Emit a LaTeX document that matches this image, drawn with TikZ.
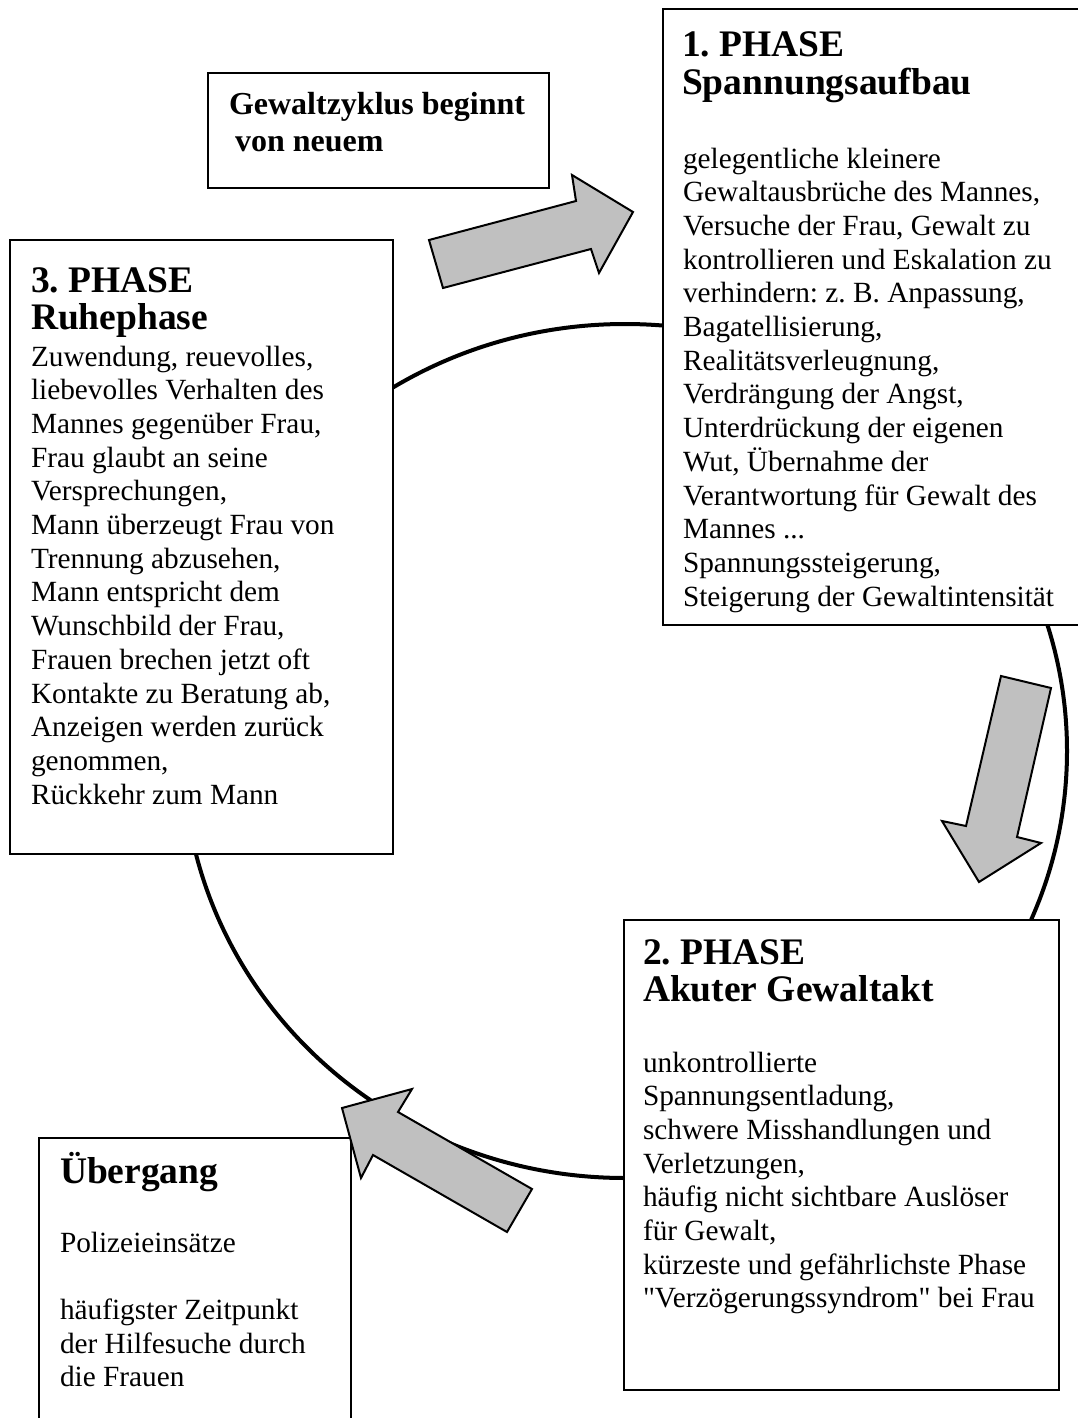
\documentclass[tikz,border=0pt]{standalone}
\usepackage{fontspec}
\setmainfont{Liberation Serif}[Ligatures=TeXOff]
\definecolor{arrowgray}{RGB}{192,192,192}
\newcommand\sth[1]{\rule{0pt}{#1pt}}
\newcommand\bodyf{\frenchspacing\fontsize{29.3}{33.7}\selectfont}
\newcommand\headf{\frenchspacing\bfseries\fontsize{37.5}{37.5}\selectfont}
\newcommand\subf{\frenchspacing\bfseries\fontsize{32}{37}\selectfont}
\tikzset{
  box/.style={draw, line width=2pt, fill=white, inner sep=0pt, outer sep=0pt, anchor=north west},
  txt/.style={anchor=north west, inner sep=0pt, outer sep=0pt, align=left},
  blockarrow/.style={draw, line width=2pt, fill=arrowgray, line join=miter},
  cycle/.style={draw, line width=4pt}
}
\begin{document}
\begin{tikzpicture}[x=1pt,y=-1pt]
\useasboundingbox (0,0) rectangle (1077,1418);
% cycle ellipse
\path[cycle] (625,751) ellipse [x radius=442pt, y radius=427pt];
% boxes
\node[box, minimum width=427pt, minimum height=616pt] (b1) at (663,9) {};
\node[box, minimum width=341pt, minimum height=115pt] (bg) at (208,73) {};
\node[box, minimum width=383pt, minimum height=614pt] (b3) at (10,240) {};
\node[box, minimum width=435pt, minimum height=470pt] (b2) at (624,920) {};
\node[box, minimum width=312pt, minimum height=300pt] (bu) at (39,1138) {};
% block arrows
\path[blockarrow] (429,240) -- (576,201) -- (572,175) -- (633,212) -- (599,273) -- (591,249) -- (443,288) -- cycle;
\path[blockarrow] (1001,676) -- (1051,688) -- (1017,837) -- (1041,843) -- (979,882) -- (942,821) -- (966,826) -- cycle;
\path[blockarrow] (532,1189) -- (398,1112) -- (412,1089) -- (342,1108) -- (361,1178) -- (373,1155) -- (507,1232) -- cycle;
% texts
\node[txt, font=\headf] (t1h) at (682,22) {\sth{35}1. PHASE\\Spannungsaufbau};
\node[txt, font=\bodyf] (t1b) at (683,138) {\sth{30}gelegentliche kleinere\\Gewaltausbrüche des Mannes,\\Versuche der Frau, Gewalt zu\\kontrollieren und Eskalation zu\\verhindern: z. B. Anpassung,\\Bagatellisierung,\\Realitätsverleugnung,\\Verdrängung der Angst,\\Unterdrückung der eigenen\\Wut, Übernahme der\\Verantwortung für Gewalt des\\Mannes ...\\Spannungssteigerung,\\Steigerung der Gewaltintensität};
\node[txt, font=\subf] (tg) at (229,82) {\sth{32}Gewaltzyklus beginnt\\\hspace*{6pt}von neuem};
\node[txt, font=\headf] (t3h) at (31,257) {\sth{35}3. PHASE\\Ruhephase};
\node[txt, font=\bodyf] (t3b) at (31,336) {\sth{30}Zuwendung, reuevolles,\\liebevolles Verhalten des\\Mannes gegenüber Frau,\\Frau glaubt an seine\\Versprechungen,\\Mann überzeugt Frau von\\Trennung abzusehen,\\Mann entspricht dem\\Wunschbild der Frau,\\Frauen brechen jetzt oft\\Kontakte zu Beratung ab,\\Anzeigen werden zurück\\genommen,\\Rückkehr zum Mann};
\node[txt, font=\headf] (t2h) at (643,929) {\sth{35}2. PHASE\\Akuter Gewaltakt};
\node[txt, font=\bodyf] (t2b) at (643,1042) {\sth{30}unkontrollierte\\Spannungsentladung,\\schwere Misshandlungen und\\Verletzungen,\\häufig nicht sichtbare Auslöser\\für Gewalt,\\kürzeste und gefährlichste Phase\\"Verzögerungssyndrom" bei Frau};
\node[txt, font=\headf] (tuh) at (60,1143) {\sth{40}Übergang};
\node[txt, font=\bodyf] (tub) at (60,1222) {\sth{30}Polizeieinsätze\\\mbox{}\\häufigster Zeitpunkt\\der Hilfesuche durch\\die Frauen};
\end{tikzpicture}
\end{document}
